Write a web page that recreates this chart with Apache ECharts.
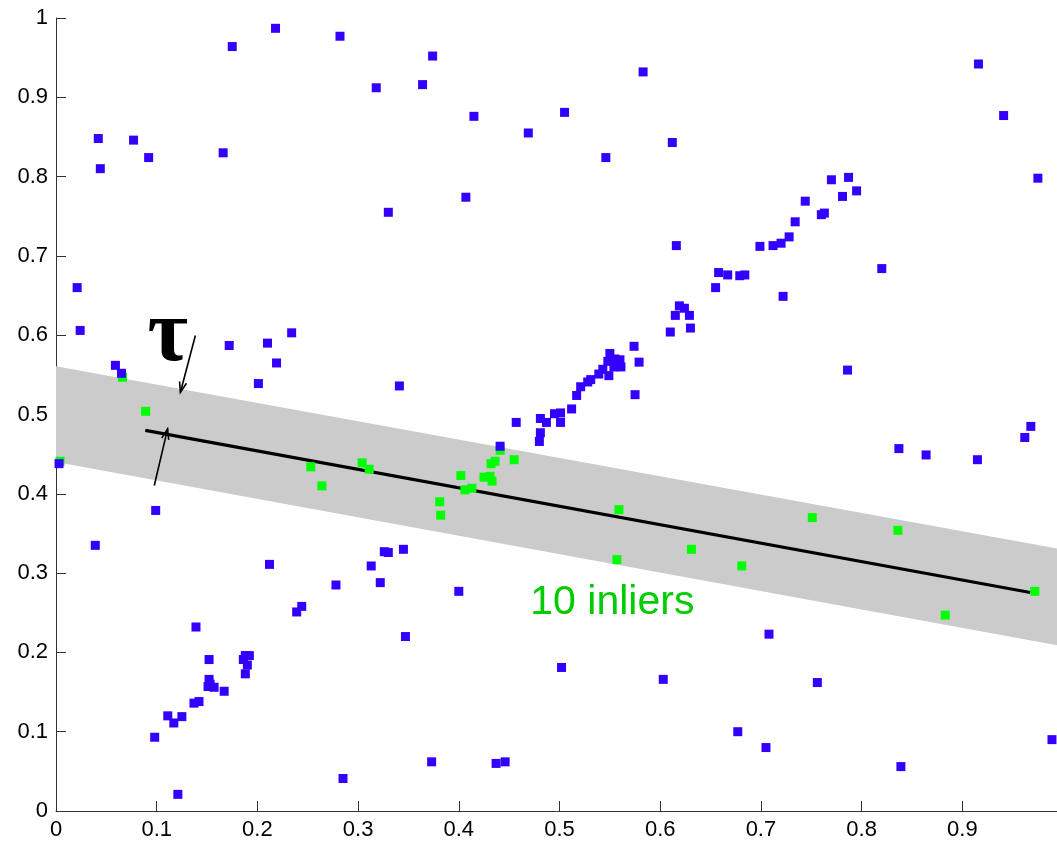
<!DOCTYPE html>
<html>
<head>
<meta charset="utf-8">
<script src="https://cdn.jsdelivr.net/npm/echarts@6/dist/echarts.min.js"></script>
<style>
html,body{margin:0;padding:0;background:#fff;}
#main{width:1057px;height:842px;}
</style>
</head>
<body>
<div id="main"></div>
<script>
// ---- tick labels ----
const xTicks = [0, 0.1, 0.2, 0.3, 0.4, 0.5, 0.6, 0.7, 0.8, 0.9];
const yTicks = [0, 0.1, 0.2, 0.3, 0.4, 0.5, 0.6, 0.7, 0.8, 0.9, 1];

// ---- outliers (blue) ----
const outX = [0.218,0.175,0.042,0.077,0.092,0.044,0.166,0.282,0.374,0.318,0.364,0.415,0.469,0.407,0.330,
0.583,0.505,0.612,0.546,0.744,0.734,0.728,0.720,0.712,0.699,0.616,0.658,0.667,0.679,0.684,0.655,0.722,
0.916,0.941,0.975,0.770,0.787,0.795,0.781,0.760,0.763,0.820,0.021,0.024,0.059,0.065,0.172,0.210,0.234,
0.219,0.201,0.099,0.039,0.003,0.341,0.457,0.481,0.487,0.495,0.481,0.480,0.501,0.501,0.512,0.517,0.521,
0.528,0.531,0.539,0.543,0.549,0.554,0.561,0.560,0.555,0.548,0.550,0.575,0.579,0.574,0.610,0.630,0.629,
0.624,0.619,0.615,0.441,0.326,0.330,0.345,0.786,0.837,0.864,0.915,0.962,0.968,0.212,0.239,0.244,0.139,
0.152,0.188,0.192,0.186,0.190,0.188,0.152,0.151,0.157,0.153,0.167,0.137,0.142,0.111,0.125,0.117,0.098,
0.121,0.313,0.278,0.322,0.400,0.347,0.373,0.437,0.446,0.285,0.502,0.603,0.708,0.677,0.705,0.756,0.839,0.989];
const outY = [0.987,0.964,0.848,0.846,0.824,0.810,0.830,0.977,0.952,0.912,0.916,0.876,0.855,0.774,0.755,
0.932,0.881,0.843,0.824,0.769,0.743,0.724,0.716,0.713,0.712,0.713,0.679,0.676,0.675,0.676,0.660,0.649,
0.942,0.877,0.798,0.796,0.799,0.782,0.775,0.752,0.754,0.684,0.660,0.606,0.562,0.552,0.587,0.590,0.603,
0.565,0.539,0.379,0.335,0.438,0.536,0.490,0.495,0.490,0.501,0.477,0.466,0.502,0.490,0.507,0.524,0.535,
0.541,0.544,0.551,0.557,0.549,0.560,0.560,0.569,0.570,0.567,0.577,0.525,0.566,0.586,0.604,0.609,0.625,
0.634,0.637,0.625,0.460,0.327,0.326,0.330,0.556,0.457,0.449,0.443,0.471,0.485,0.311,0.251,0.258,0.232,
0.191,0.196,0.196,0.191,0.184,0.173,0.166,0.157,0.156,0.160,0.151,0.136,0.138,0.120,0.119,0.111,0.093,
0.021,0.309,0.285,0.288,0.277,0.220,0.062,0.060,0.062,0.041,0.181,0.166,0.223,0.100,0.080,0.162,0.056,0.090];

// ---- inliers (green) ----
const inX = [0.004,0.066,0.089,0.253,0.264,0.304,0.311,0.381,0.382,0.402,0.406,0.413,0.425,0.431,0.433,
0.432,0.436,0.441,0.455,0.559,0.557,0.631,0.681,0.751,0.836,0.883,0.972];
const inY = [0.441,0.547,0.504,0.434,0.410,0.439,0.431,0.390,0.373,0.423,0.405,0.407,0.421,0.422,0.416,
0.438,0.441,0.455,0.443,0.380,0.317,0.330,0.309,0.370,0.354,0.247,0.277];

// ---- fitted line and tolerance band ----
const fitX = [0.0887, 0.9675];
const fitY = [0.480, 0.2756];
const bandX = [0, 0.994];
const bandUpper = [0.561, 0.331];
const bandLower = [0.440, 0.209];

// ---- annotations ----
const arrowFromX = [0.1384, 0.0976];
const arrowFromY = [0.5997, 0.4104];
const arrowToX = [0.1235, 0.1108];
const arrowToY = [0.5278, 0.4819];
const annotX = [0.111, 0.471];
const annotY = [0.598, 0.2626];
const annotText = ['\u03c4', '10 inliers'];

const annotStyle = [
  {font: 'bold 88px "Liberation Serif"', fill: '#000', align: 'center'},
  {font: '41px "Liberation Sans"', fill: '#00cc00', align: 'left'}
];

const chart = echarts.init(document.getElementById('main'), null, {renderer: 'canvas'});
const fmt = v => String(+(+v).toFixed(2));

const option = {
  animation: false,
  backgroundColor: '#fff',
  grid: {left: 56, right: 0, top: 18, bottom: 31, containLabel: false, outerBoundsMode: 'none'},
  xAxis: {
    type: 'value', min: 0, max: 0.994, interval: 0.1,
    splitLine: {show: false},
    axisLine: {show: true, onZero: false, lineStyle: {color: '#333', width: 1}},
    axisTick: {show: true, inside: true, length: 10, lineStyle: {color: '#333'}, customValues: xTicks},
    axisLabel: {margin: 8, color: '#000', fontSize: 22, fontFamily: 'Liberation Sans', formatter: fmt, customValues: xTicks}
  },
  yAxis: {
    type: 'value', min: 0, max: 1, interval: 0.1,
    splitLine: {show: false},
    axisLine: {show: true, onZero: false, lineStyle: {color: '#333', width: 1}},
    axisTick: {show: true, inside: true, length: 10, lineStyle: {color: '#333'}, customValues: yTicks},
    axisLabel: {margin: 8, color: '#000', fontSize: 22, fontFamily: 'Liberation Sans', formatter: fmt, customValues: yTicks}
  },
  series: [
    {
      type: 'custom', silent: true, z: 1,
      data: [[0, 0]],
      renderItem: function (params, api) {
        const pts = [];
        for (let i = 0; i < bandX.length; i++) pts.push(api.coord([bandX[i], bandUpper[i]]));
        for (let i = bandX.length - 1; i >= 0; i--) pts.push(api.coord([bandX[i], bandLower[i]]));
        return {type: 'polygon', shape: {points: pts}, style: {fill: '#cbcbcb', stroke: null}};
      }
    },
    {
      type: 'line', silent: true, z: 2, symbol: 'none',
      data: fitX.map((x, i) => [x, fitY[i]]),
      lineStyle: {color: '#000', width: 3.2}
    },
    {
      type: 'scatter', silent: true, z: 3, symbol: 'rect', symbolSize: 9,
      data: inX.map((x, i) => [x, inY[i]]),
      itemStyle: {color: '#00ff00', opacity: 1}
    },
    {
      type: 'scatter', silent: true, z: 4, symbol: 'rect', symbolSize: 9,
      data: outX.map((x, i) => [x, outY[i]]),
      itemStyle: {color: '#3300ff', opacity: 1}
    },
    {
      type: 'custom', silent: true, z: 5,
      data: arrowFromX.map((x, i) => [x, arrowFromY[i], arrowToX[i], arrowToY[i]]),
      renderItem: function (params, api) {
        const a = api.coord([api.value(0), api.value(1)]);
        const b = api.coord([api.value(2), api.value(3)]);
        const ang = Math.atan2(b[1] - a[1], b[0] - a[0]);
        const L = 11, w = 0.33;
        const h1 = [b[0] - L * Math.cos(ang - w), b[1] - L * Math.sin(ang - w)];
        const h2 = [b[0] - L * Math.cos(ang + w), b[1] - L * Math.sin(ang + w)];
        return {
          type: 'group',
          children: [
            {type: 'line', shape: {x1: a[0], y1: a[1], x2: b[0], y2: b[1]}, style: {stroke: '#000', lineWidth: 1.6}},
            {type: 'polyline', shape: {points: [h1, b, h2]}, style: {stroke: '#000', fill: null, lineWidth: 1.6}}
          ]
        };
      }
    },
    {
      type: 'custom', silent: true, z: 6,
      data: annotX.map((x, i) => [x, annotY[i]]),
      renderItem: function (params, api) {
        const p = api.coord([api.value(0), api.value(1)]);
        const s = annotStyle[params.dataIndex];
        return {
          type: 'text', x: p[0], y: p[1],
          style: {text: annotText[params.dataIndex], font: s.font, fill: s.fill, align: s.align, verticalAlign: 'middle'}
        };
      }
    }
  ]
};
chart.setOption(option);
</script>
</body>
</html>
